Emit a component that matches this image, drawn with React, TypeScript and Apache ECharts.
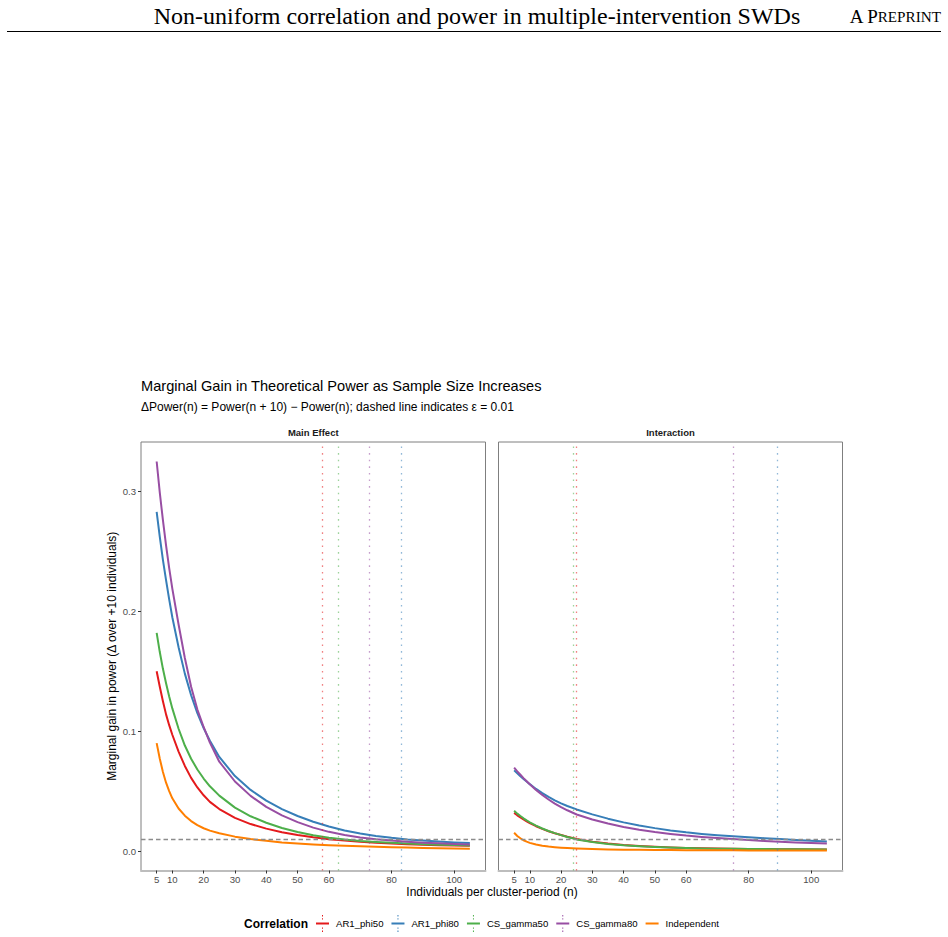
import React, { useEffect, useRef } from "react";
import * as echarts from "echarts";

// ---------- data ----------
const N = [5, 6, 7, 8, 9, 10, 12, 14, 16, 18, 20, 22, 25, 30, 35, 40, 45, 50, 55, 60, 65, 70, 75, 80, 85, 90, 95, 100, 105];
const CORRELATIONS = ["AR1_phi50", "AR1_phi80", "CS_gamma50", "CS_gamma80", "Independent"];
const COLORS = ["#E41A1C", "#377EB8", "#4DAF4A", "#984EA3", "#FF7F00"];
const FADED = ["rgba(228,26,28,0.55)", "rgba(55,126,184,0.55)", "rgba(77,175,74,0.55)", "rgba(152,78,163,0.55)", "rgba(255,127,0,0.55)"];
const PANELS = ["Main Effect", "Interaction"];

// Main Effect
const mainAR1_phi50 = [0.150, 0.137, 0.125, 0.114, 0.105, 0.097, 0.083, 0.071, 0.061, 0.053, 0.0465, 0.041, 0.0350, 0.0277, 0.0225, 0.0187, 0.0157, 0.0133, 0.0114, 0.0099, 0.0087, 0.0078, 0.0070, 0.0063, 0.0057, 0.0053, 0.0049, 0.0046, 0.0043];
const mainAR1_phi80 = [0.283, 0.262, 0.243, 0.226, 0.210, 0.195, 0.170, 0.148, 0.130, 0.115, 0.1025, 0.0920, 0.0785, 0.0625, 0.0510, 0.0420, 0.0350, 0.0292, 0.0244, 0.0204, 0.0172, 0.0146, 0.0126, 0.0110, 0.0097, 0.0087, 0.0079, 0.0072, 0.0066];
const mainCS_gamma50 = [0.182, 0.166, 0.152, 0.140, 0.129, 0.119, 0.102, 0.088, 0.077, 0.068, 0.0605, 0.0540, 0.0462, 0.0362, 0.0290, 0.0236, 0.0192, 0.0159, 0.0132, 0.0111, 0.0096, 0.0084, 0.0075, 0.0068, 0.0062, 0.0057, 0.0053, 0.0050, 0.0047];
const mainCS_gamma80 = [0.325, 0.299, 0.276, 0.255, 0.236, 0.219, 0.189, 0.161, 0.137, 0.118, 0.1035, 0.0905, 0.0745, 0.0580, 0.0460, 0.0368, 0.0298, 0.0241, 0.0195, 0.0160, 0.0133, 0.0113, 0.0098, 0.0087, 0.0078, 0.0070, 0.0064, 0.0059, 0.0055];
const mainIndependent = [0.090, 0.077, 0.066, 0.057, 0.050, 0.044, 0.0355, 0.0295, 0.0250, 0.0216, 0.0190, 0.0170, 0.0148, 0.0120, 0.0100, 0.0085, 0.0072, 0.0062, 0.0054, 0.0048, 0.0043, 0.0039, 0.0035, 0.0032, 0.0029, 0.0026, 0.0024, 0.0021, 0.0019];

// Interaction
const intAR1_phi50 = [0.0318, 0.0298, 0.0280, 0.0263, 0.0247, 0.0233, 0.0207, 0.0185, 0.0165, 0.0148, 0.0133, 0.0119, 0.0100, 0.0078, 0.0062, 0.0050, 0.0042, 0.0035, 0.0030, 0.0026, 0.0023, 0.0021, 0.0019, 0.0017, 0.0016, 0.0015, 0.0014, 0.0013, 0.0012];
const intAR1_phi80 = [0.0673, 0.0648, 0.0624, 0.0602, 0.0580, 0.0558, 0.0518, 0.0483, 0.0451, 0.0423, 0.0398, 0.0376, 0.0347, 0.0306, 0.0270, 0.0239, 0.0213, 0.0191, 0.0172, 0.0156, 0.0143, 0.0132, 0.0123, 0.0115, 0.0107, 0.0100, 0.0092, 0.0085, 0.0079];
const intCS_gamma50 = [0.0335, 0.0312, 0.0292, 0.0273, 0.0256, 0.0240, 0.0212, 0.0188, 0.0167, 0.0149, 0.0133, 0.0117, 0.0097, 0.0075, 0.0059, 0.0048, 0.0040, 0.0034, 0.0029, 0.0025, 0.0022, 0.0020, 0.0018, 0.0017, 0.0016, 0.0015, 0.0014, 0.0014, 0.0013];
const intCS_gamma80 = [0.0696, 0.0665, 0.0636, 0.0608, 0.0582, 0.0557, 0.0510, 0.0468, 0.0430, 0.0396, 0.0366, 0.0340, 0.0305, 0.0263, 0.0229, 0.0201, 0.0178, 0.0159, 0.0143, 0.0129, 0.0118, 0.0108, 0.0100, 0.0092, 0.0084, 0.0077, 0.0071, 0.0066, 0.0062];
const intIndependent = [0.0152, 0.0126, 0.0106, 0.0090, 0.0078, 0.0068, 0.0054, 0.0044, 0.0037, 0.0032, 0.0028, 0.0025, 0.0021, 0.0016, 0.0013, 0.0011, 0.0010, 0.0009, 0.0008, 0.0007, 0.0007, 0.0006, 0.0006, 0.0005, 0.0005, 0.0005, 0.0004, 0.0004, 0.0004];

// first n at which the gain drops below epsilon (dotted vertical lines)
const mainThreshold = [58, 83, 63, 73, null];
const intThreshold = [25, 89, 24, 75, null];

const X_TICKS = [5, 10, 20, 30, 40, 50, 60, 80, 100];
const Y_TICKS = [0, 0.1, 0.2, 0.3];
const EPSILON = 0.01;

const PANEL_DATA = [
  [mainAR1_phi50, mainAR1_phi80, mainCS_gamma50, mainCS_gamma80, mainIndependent],
  [intAR1_phi50, intAR1_phi80, intCS_gamma50, intCS_gamma80, intIndependent],
];
const PANEL_THRESHOLDS = [mainThreshold, intThreshold];

const SANS = "'Liberation Sans', Arial, Helvetica, sans-serif";
const SERIF = "'Liberation Serif', 'Times New Roman', serif";

const GRIDS = [
  { left: 141, top: 442, width: 344.5, height: 428.5 },
  { left: 498.5, top: 442, width: 344, height: 428.5 },
];

const ICON_WITH_VLINE =
  "path://M0,7.6h13v1.8h-13z M6,0h1v1.4h-1z M6,3.2h1v1.4h-1z M6,12.4h1v1.4h-1z M6,15.6h1v1.4h-1z";
const ICON_LINE_ONLY =
  "path://M0,7.6h13v1.8h-13z M6,0h0.01v0.01h-0.01z M6,16.99h0.01v0.01h-0.01z";

function buildOption() {
  const series: any[] = [];
  PANEL_DATA.forEach((panel, p) => {
    panel.forEach((vals, i) => {
      const markData: any[] = [];
      const th = PANEL_THRESHOLDS[p][i];
      if (th != null) {
        markData.push({
          xAxis: th,
          lineStyle: { color: FADED[i], type: [1.6, 5], width: 1.3 },
        });
      }
      if (i === CORRELATIONS.length - 1) {
        markData.push({
          yAxis: EPSILON,
          lineStyle: { color: "#8C8C8C", type: [4.5, 3], width: 1.3 },
        });
      }
      series.push({
        type: "line",
        name: CORRELATIONS[i],
        xAxisIndex: p,
        yAxisIndex: p,
        data: N.map((n, k) => [n, vals[k]]),
        showSymbol: false,
        symbol: "none",
        smooth: false,
        color: COLORS[i],
        lineStyle: { width: 2, color: COLORS[i], join: "round" },
        emphasis: { disabled: true },
        markLine: {
          silent: true,
          symbol: ["none", "none"],
          label: { show: false },
          emphasis: { disabled: true },
          data: markData,
        },
      });
    });
  });

  const xAxis = GRIDS.map((_, p) => ({
    type: "value",
    gridIndex: p,
    min: 0,
    max: 110,
    splitLine: { show: false },
    axisLine: { show: true, onZero: false, lineStyle: { color: "#BDBDBD", width: 2 } },
    axisTick: { show: true, customValues: X_TICKS, length: 3, lineStyle: { color: "#333333", width: 1 } },
    axisLabel: {
      customValues: X_TICKS,
      fontSize: 9.6,
      color: "#4D4D4D",
      fontFamily: SANS,
      margin: 4,
    },
  }));

  const yAxis = GRIDS.map((_, p) => ({
    type: "value",
    gridIndex: p,
    min: -0.01625,
    max: 0.34125,
    splitLine: { show: false },
    axisLine: { show: false },
    axisTick: { show: p === 0, customValues: Y_TICKS, length: 3, lineStyle: { color: "#333333", width: 1 } },
    axisLabel: {
      show: p === 0,
      customValues: Y_TICKS,
      formatter: (v: number) => v.toFixed(1),
      fontSize: 9.6,
      color: "#4D4D4D",
      fontFamily: SANS,
      margin: 5,
    },
    name: p === 0 ? "Marginal gain in power (\u0394 over +10 individuals)" : "",
    nameLocation: "middle",
    nameRotate: 90,
    nameGap: 23,
    nameTextStyle: { fontSize: 12, color: "#000", fontFamily: SANS },
  }));

  const txt = (text: string, x: number, y: number, extra: any = {}) => ({
    type: "text",
    x,
    y,
    silent: true,
    style: {
      text,
      fill: "#000",
      fontFamily: SANS,
      fontSize: 12,
      align: "left",
      textAlign: "left",
      verticalAlign: "middle",
      textVerticalAlign: "middle",
      ...extra,
    },
  });

  const graphic: any[] = [
    txt("Non-uniform correlation and power in multiple-intervention SWDs", 477, 16, {
      fontFamily: SERIF,
      fontSize: 24,
      align: "center",
      textAlign: "center",
    }),
    {
      type: "text",
      x: 941,
      y: 16,
      silent: true,
      style: {
        text: "{a|A P}{b|REPRINT}",
        align: "right",
        textAlign: "right",
        verticalAlign: "middle",
        textVerticalAlign: "middle",
        fill: "#000",
        rich: {
          a: { fontFamily: SERIF, fontSize: 19, fill: "#000" },
          b: { fontFamily: SERIF, fontSize: 15.2, fill: "#000" },
        },
      },
    },
    {
      type: "line",
      silent: true,
      shape: { x1: 7, y1: 31.5, x2: 941, y2: 31.5 },
      style: { stroke: "#000", lineWidth: 1 },
    },
    txt("Marginal Gain in Theoretical Power as Sample Size Increases", 141, 386, { fontSize: 14.6 }),
    txt("\u0394Power(n) = Power(n + 10) \u2212 Power(n); dashed line indicates \u03b5 = 0.01", 141, 407, {
      fontSize: 12,
    }),
    txt(PANELS[0], GRIDS[0].left + GRIDS[0].width / 2, 432, {
      fontSize: 9.5,
      fontWeight: "bold",
      fill: "#1A1A1A",
      align: "center",
      textAlign: "center",
    }),
    txt(PANELS[1], GRIDS[1].left + GRIDS[1].width / 2, 432, {
      fontSize: 9.5,
      fontWeight: "bold",
      fill: "#1A1A1A",
      align: "center",
      textAlign: "center",
    }),
    txt("Individuals per cluster-period (n)", 492, 892, { align: "center", textAlign: "center" }),
    txt("Correlation", 244, 923.5, { fontWeight: "bold" }),
  ];

  return {
    animation: false,
    backgroundColor: "#FFFFFF",
    grid: GRIDS.map((g) => ({
      ...g,
      show: true,
      borderColor: "#7F7F7F",
      borderWidth: 1,
      backgroundColor: "transparent",
      containLabel: false,
    })),
    xAxis,
    yAxis,
    legend: {
      data: CORRELATIONS.map((name, i) => ({
        name,
        icon: mainThreshold[i] != null ? ICON_WITH_VLINE : ICON_LINE_ONLY,
      })),
      left: 316,
      top: 915,
      padding: 0,
      itemWidth: 13,
      itemHeight: 17,
      itemGap: 8,
      selectedMode: false,
      textStyle: { fontSize: 9.6, color: "#000", fontFamily: SANS, padding: [0, 0, 0, 2] },
    },
    series,
    graphic,
  };
}

export default function App() {
  const ref = useRef<HTMLDivElement>(null);
  useEffect(() => {
    if (!ref.current) return;
    const chart = echarts.init(ref.current, undefined, { renderer: "svg" });
    chart.setOption(buildOption() as any);
    return () => chart.dispose();
  }, []);
  return (
    <div
      ref={ref}
      style={{ position: "absolute", left: 0, top: 0, width: 948, height: 937, background: "#fff" }}
    />
  );
}
